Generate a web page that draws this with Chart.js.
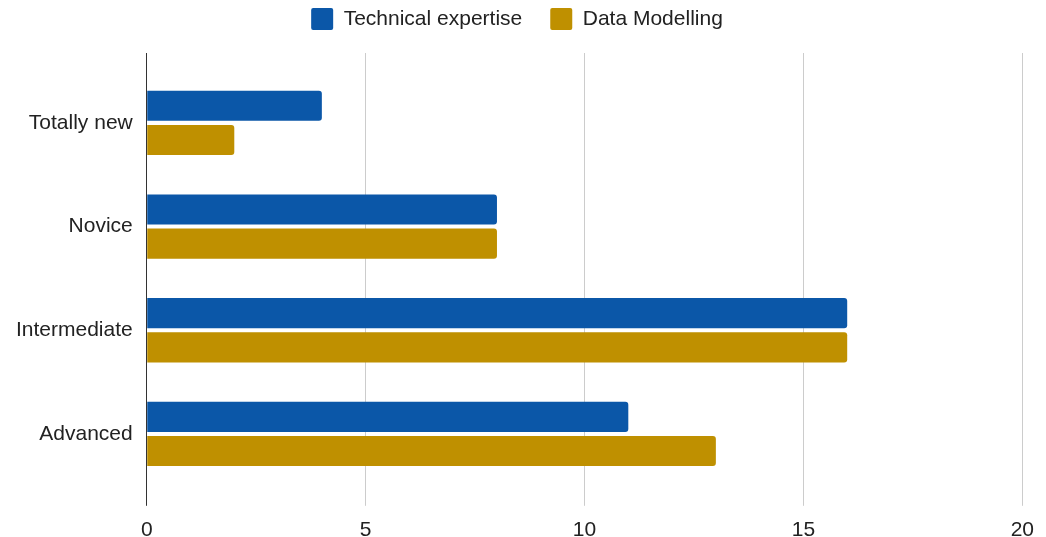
<!DOCTYPE html>
<html>
<head>
<meta charset="utf-8">
<script src="https://cdn.jsdelivr.net/npm/chart.js@4"></script>
<style>
  html, body { margin: 0; padding: 0; background: #fff; }
  #wrap { width: 1046px; height: 537px; position: relative; }
</style>
</head>
<body>
<div id="wrap"><canvas id="levelChart"></canvas></div>
<script>
// Experience levels (horizontal bar chart)
const levels = ['Totally new', 'Novice', 'Intermediate', 'Advanced'];
const technicalExpertise = [4, 8, 16, 11];
const dataModelling = [2, 8, 16, 13];
const xTicks = [0, 5, 10, 15, 20];

const FONT = 'Liberation Sans, Arial, sans-serif';

// gridlines in the reference run a little above the first band
const gridTopExtension = {
  id: 'gridTopExtension',
  beforeDatasetsDraw(chart) {
    const { ctx, chartArea, scales } = chart;
    ctx.save();
    ctx.lineWidth = 1;
    xTicks.forEach(v => {
      const x = Math.round(scales.x.getPixelForValue(v) - 0.5) + 0.5;
      ctx.strokeStyle = v === 0 ? '#333333' : '#cccccc';
      ctx.beginPath();
      ctx.moveTo(x, chartArea.top - 18);
      ctx.lineTo(x, chartArea.top);
      ctx.stroke();
    });
    ctx.restore();
  }
};

// leave more room between the legend and the plot
const legendSpacing = {
  id: 'legendSpacing',
  beforeInit(chart) {
    const origFit = chart.legend.fit;
    chart.legend.fit = function () {
      origFit.call(this);
      this.height += 31;
    };
  }
};

const ctx = document.getElementById('levelChart').getContext('2d');
new Chart(ctx, {
  type: 'bar',
  data: {
    labels: levels,
    datasets: [
      {
        label: 'Technical expertise',
        data: technicalExpertise,
        backgroundColor: '#0b57a8',
        borderRadius: 3,
        categoryPercentage: 0.66,
        barPercentage: 0.88
      },
      {
        label: 'Data Modelling',
        data: dataModelling,
        backgroundColor: '#bf9000',
        borderRadius: 3,
        categoryPercentage: 0.66,
        barPercentage: 0.88
      }
    ]
  },
  options: {
    indexAxis: 'y',
    responsive: true,
    maintainAspectRatio: false,
    animation: false,
    layout: { padding: { top: -20, right: 22, left: 10, bottom: -18 } },
    plugins: {
      legend: {
        position: 'top',
        labels: {
          boxWidth: 22,
          boxHeight: 22,
          useBorderRadius: true,
          borderRadius: 2,
          padding: 28,
          color: '#222222',
          font: { family: FONT, size: 21 }
        }
      },
      tooltip: { enabled: false }
    },
    scales: {
      x: {
        min: 0,
        max: 20,
        afterBuildTicks(scale) {
          scale.ticks = xTicks.map(v => ({ value: v }));
        },
        grid: {
          color: c => (c.tick && c.tick.value === 0 ? '#333333' : '#cccccc'),
          tickLength: 20
        },
        border: { display: false },
        ticks: {
          padding: 12,
          color: '#222222',
          font: { family: FONT, size: 21 }
        }
      },
      y: {
        grid: { display: false },
        border: { display: false },
        ticks: {
          padding: 6,
          color: '#222222',
          font: { family: FONT, size: 21 }
        }
      }
    }
  },
  plugins: [legendSpacing, gridTopExtension]
});
</script>
</body>
</html>
